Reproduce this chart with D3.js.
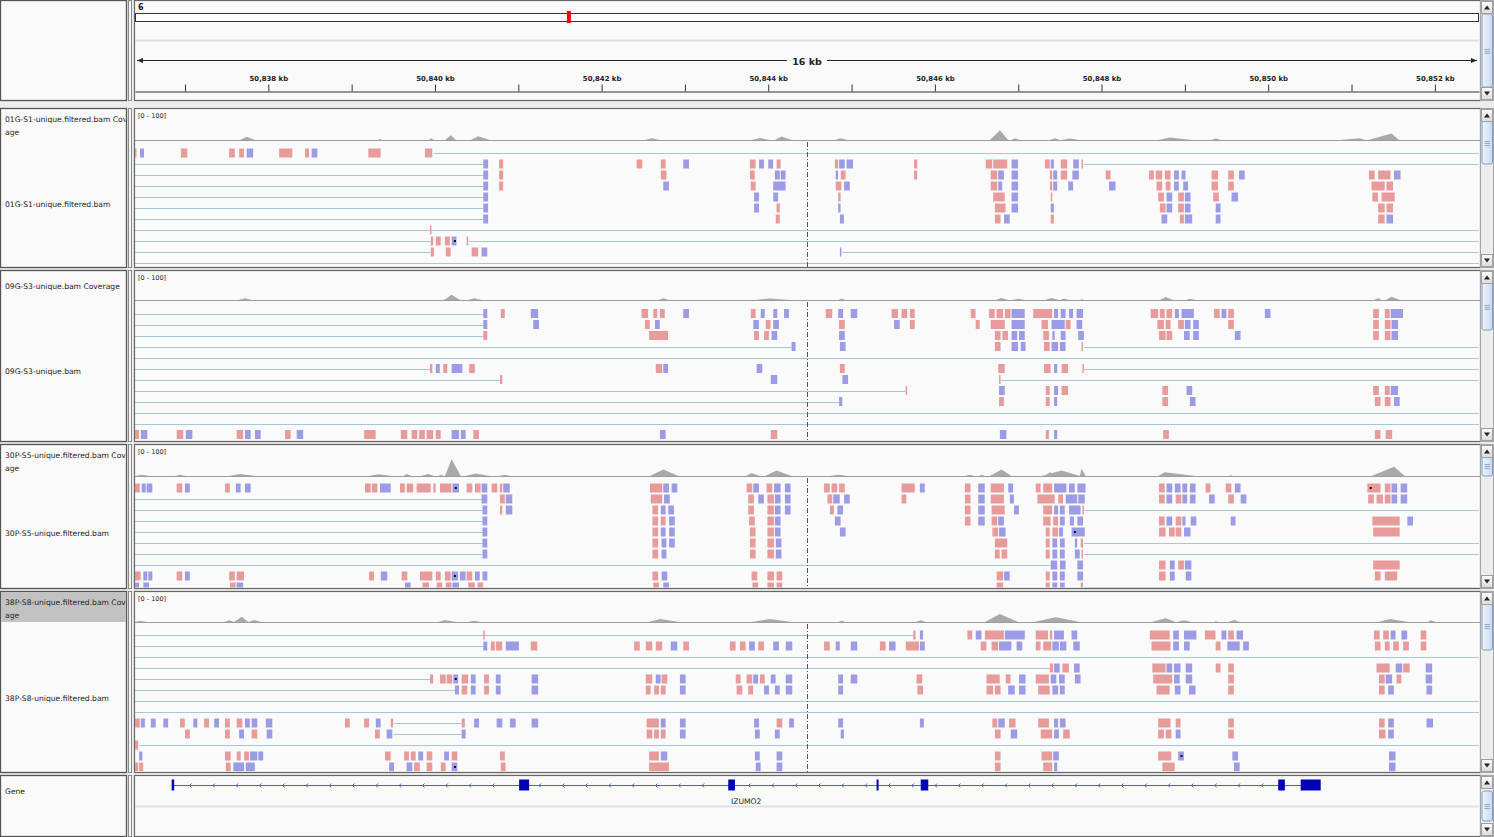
<!DOCTYPE html>
<html lang="en">
<head>
<meta charset="UTF-8">
<title>IGV - chr6 IZUMO2</title>
<script src="https://d3js.org/d3.v7.min.js"></script>
<style>
  body { margin: 0; background: #ececec; }
  svg { display: block; font-family: "DejaVu Sans", sans-serif; }
</style>
</head>
<body>
<div id="igv"></div>
<script>
// all genomic positions below are kb past 50,800 kb on chr6
const KB0 = 50800;
const chromName = "6";
const ideogramSpanKb = 158200;
const viewRange = [36.40, 52.53];
const rulerTicks = [37, 38, 39, 40, 41, 42, 43, 44, 45, 46, 47, 48, 49, 50, 51, 52];

const coverageNames = [["01G-S1-unique.filtered.bam Cover", "age"], ["09G-S3-unique.bam Coverage"],
  ["30P-S5-unique.filtered.bam Cover", "age"], ["38P-S8-unique.filtered.bam Cover", "age"]];
const bamNames = ["01G-S1-unique.filtered.bam", "09G-S3-unique.bam", "30P-S5-unique.filtered.bam", "38P-S8-unique.filtered.bam"];

// coverage bumps: [start, peak, end, depth]
const cov01G = [[37.66,37.74,37.84,11],[39.32,39.34,39.36,4],[39.93,39.95,39.99,6],[40.12,40.19,40.25,16],[40.43,40.52,40.66,13],[42.52,42.60,42.70,6],[43.80,43.90,44.02,7],[44.08,44.16,44.28,12],[44.81,44.86,44.96,6],[46.66,46.78,46.88,34],[46.92,46.96,47.02,6],[47.38,47.44,47.50,6],[47.52,47.62,47.74,5],[48.68,48.82,49.08,9],[49.32,49.37,49.43,5],[50.86,51.10,51.16,6],[51.20,51.48,51.57,22]];
const cov09G = [[37.64,37.72,37.80,6],[40.11,40.20,40.30,18],[40.40,40.47,40.56,6],[42.68,42.74,42.81,6],[43.84,44.02,44.26,5],[44.84,44.88,44.93,4],[46.73,46.80,46.88,7],[46.92,47.00,47.08,4],[47.32,47.40,47.49,7],[47.50,47.55,47.61,4],[47.74,47.76,47.79,3],[48.70,48.77,48.86,10],[49.01,49.06,49.13,4],[51.27,51.32,51.36,7],[51.41,51.48,51.58,11]];
const cov30P = [[36.40,36.48,36.58,4],[36.88,36.94,37.01,4],[37.52,37.66,37.85,7],[39.20,39.32,39.48,6],[39.62,39.66,39.72,7],[39.83,39.92,39.99,7],[40.04,40.07,40.11,4],[40.12,40.20,40.31,58],[40.36,40.49,40.66,9],[40.76,40.84,40.91,4],[42.58,42.74,42.92,22],[43.73,43.80,43.90,10],[43.96,44.10,44.28,19],[44.74,44.84,44.96,4],[46.36,46.42,46.48,4],[46.53,46.56,46.60,4],[46.66,46.80,46.92,22],[47.28,47.52,47.74,19],[47.32,47.38,47.48,13],[47.74,47.76,47.81,26],[48.68,48.76,49.13,13],[49.53,49.55,49.58,3],[51.24,51.51,51.64,32]];
const cov38P = [[36.40,36.46,36.54,4],[37.47,37.53,37.59,6],[37.59,37.68,37.76,18],[37.76,37.83,37.92,7],[40.04,40.12,40.25,7],[40.40,40.47,40.54,4],[42.56,42.70,42.94,10],[43.80,44.02,44.28,10],[44.84,44.88,44.93,4],[45.77,45.83,45.89,6],[46.60,46.78,47.00,28],[47.19,47.45,47.74,16],[48.60,48.77,48.89,13],[48.90,48.99,49.08,6],[49.35,49.37,49.40,3],[49.52,49.59,49.66,7],[51.32,51.46,51.68,10],[51.92,51.95,52.01,6]];

// alignment rows: [kind, start, end]; f = forward read, r = reverse read, n = spliced gap
const reads01G = [
 [["f",36.38,36.43],["r",36.46,36.52],["f",36.95,37.04],["f",37.53,37.61],["f",37.65,37.72],["r",37.74,37.83],["f",38.13,38.30],["f",38.44,38.50],["r",38.52,38.60],["f",39.20,39.36],["f",39.88,39.98],["n",39.98,52.6]],
 [["n",36.4,40.58],["r",40.58,40.65],["f",40.77,40.83],["f",42.42,42.50],["f",42.71,42.78],["r",42.98,43.06],["f",43.78,43.86],["r",43.89,43.96],["r",44.00,44.07],["f",44.10,44.16],["f",44.80,44.85],["r",44.85,44.93],["r",44.94,45.03],["f",45.75,45.80],["f",46.61,46.70],["f",46.70,46.88],["r",46.92,47.01],["f",47.32,47.39],["r",47.39,47.44],["f",47.51,47.60],["r",47.66,47.74],["f",47.76,47.79],["n",47.79,52.6]],
 [["n",36.4,40.58],["r",40.58,40.65],["f",40.77,40.83],["f",42.71,42.79],["f",43.78,43.85],["r",44.08,44.15],["r",44.15,44.22],["r",44.81,44.85],["f",44.87,44.94],["f",45.75,45.80],["f",46.67,46.76],["r",46.76,46.84],["r",46.92,47.01],["f",47.38,47.42],["r",47.42,47.48],["f",47.51,47.60],["r",47.65,47.74],["f",48.05,48.12],["f",48.57,48.64],["f",48.65,48.74],["f",48.76,48.84],["r",48.87,48.94],["r",48.96,49.02],["f",49.32,49.41],["f",49.52,49.60],["r",49.65,49.73],["f",51.21,51.29],["f",51.32,51.48],["r",51.51,51.60]],
 [["n",36.4,40.58],["r",40.58,40.65],["f",40.77,40.83],["r",42.74,42.82],["f",43.79,43.86],["r",44.06,44.22],["f",44.81,44.89],["r",44.91,44.99],["f",46.67,46.76],["r",46.76,46.82],["r",46.92,47.01],["f",47.38,47.42],["r",47.42,47.48],["r",47.60,47.67],["r",48.09,48.18],["f",48.66,48.74],["f",48.77,48.84],["r",48.87,48.94],["r",48.98,49.05],["f",49.32,49.41],["f",49.52,49.60],["f",51.24,51.41],["f",51.42,51.51]],
 [["n",36.4,40.58],["r",40.58,40.65],["r",43.83,43.90],["r",44.06,44.13],["f",44.84,44.88],["f",46.70,46.85],["r",46.92,47.01],["f",47.39,47.41],["f",48.68,48.76],["r",48.78,48.86],["f",48.92,49.00],["r",49.00,49.08],["f",49.34,49.42],["r",49.56,49.65],["f",51.25,51.33],["f",51.36,51.53]],
 [["n",36.4,40.58],["r",40.58,40.65],["r",43.83,43.90],["f",44.10,44.15],["r",44.84,44.88],["f",46.72,46.86],["r",46.92,47.01],["r",47.39,47.44],["f",48.70,48.78],["r",48.78,48.86],["f",48.92,49.00],["r",49.00,49.08],["r",49.37,49.44],["f",51.32,51.41],["f",51.42,51.51]],
 [["n",36.4,40.58],["r",40.58,40.65],["f",44.09,44.15],["r",44.86,44.92],["f",46.72,46.80],["r",46.83,46.91],["f",47.39,47.44],["r",48.72,48.80],["f",48.94,49.00],["r",49.00,49.10],["r",49.37,49.44],["f",51.32,51.41],["r",51.42,51.51]],
 [["n",36.4,52.6],["f",39.94,39.96]],
 [["n",36.4,39.95],["f",39.95,39.99],["f",40.01,40.08],["f",40.12,40.19],["r",40.20,40.27],["f",40.38,40.41],["n",40.41,52.6]],
 [["n",36.4,39.95],["f",39.95,40.00],["f",40.13,40.20],["f",40.44,40.53],["r",40.56,40.64],["r",44.86,44.89],["n",44.89,52.6]],
 [["n",36.4,52.6]]
];
const reads09G = [
 [["n",36.4,40.58],["r",40.58,40.64],["f",40.79,40.85],["r",41.15,41.25],["f",42.48,42.57],["f",42.62,42.68],["f",42.70,42.77],["r",42.98,43.06],["f",43.79,43.86],["r",43.91,43.97],["r",44.06,44.12],["r",44.19,44.26],["f",44.69,44.78],["r",44.84,44.91],["r",44.99,45.08],["f",45.48,45.57],["f",45.60,45.68],["f",45.70,45.77],["f",46.43,46.50],["f",46.65,46.73],["f",46.74,46.83],["f",46.84,46.92],["r",46.92,47.09],["f",47.18,47.42],["r",47.43,47.49],["r",47.51,47.58],["r",47.61,47.67],["r",47.70,47.79],["f",48.59,48.69],["f",48.70,48.77],["f",48.78,48.86],["r",48.88,48.94],["r",48.96,49.12],["f",49.35,49.43],["r",49.44,49.51],["f",49.52,49.60],["r",49.96,50.04],["f",51.26,51.34],["f",51.40,51.47],["r",51.47,51.63]],
 [["n",36.4,40.58],["r",40.58,40.64],["r",41.18,41.26],["f",42.52,42.59],["r",42.64,42.71],["r",43.82,43.90],["f",43.97,44.04],["r",44.06,44.14],["f",44.85,44.93],["r",45.51,45.59],["f",45.70,45.77],["f",46.49,46.55],["f",46.67,46.85],["r",46.92,47.09],["f",47.28,47.37],["r",47.40,47.57],["f",47.57,47.64],["r",47.70,47.78],["f",48.67,48.76],["f",48.77,48.84],["f",48.92,49.00],["r",49.00,49.08],["r",49.10,49.18],["f",49.52,49.60],["f",51.26,51.34],["f",51.40,51.48],["r",51.48,51.57]],
 [["n",36.4,40.58],["f",40.58,40.64],["f",42.57,42.81],["f",43.83,43.90],["f",43.95,44.02],["r",44.04,44.12],["r",44.85,44.93],["f",46.72,46.80],["f",46.81,46.89],["r",46.92,47.00],["r",47.01,47.09],["f",47.30,47.38],["r",47.41,47.45],["r",47.51,47.58],["r",47.72,47.80],["f",48.69,48.78],["f",48.78,48.86],["r",48.99,49.07],["r",49.10,49.18],["r",49.60,49.68],["f",51.26,51.34],["f",51.40,51.48],["r",51.48,51.57]],
 [["n",36.4,44.28],["r",44.28,44.34],["r",44.86,44.94],["f",46.72,46.80],["r",46.92,47.01],["r",47.03,47.10],["f",47.31,47.39],["r",47.40,47.49],["r",47.50,47.58],["f",47.76,47.79],["n",47.79,52.6]],
 [["n",36.4,52.6]],
 [["n",36.4,39.94],["f",39.94,39.98],["r",40.01,40.07],["f",40.10,40.16],["r",40.20,40.34],["f",40.41,40.49],["f",42.65,42.74],["r",42.74,42.81],["r",43.86,43.94],["f",44.86,44.93],["f",46.76,46.85],["f",47.31,47.40],["r",47.43,47.48],["f",47.52,47.61],["f",47.77,47.79],["n",47.79,52.6]],
 [["n",36.4,40.78],["f",40.78,40.82],["r",44.03,44.12],["r",44.89,44.97],["f",46.77,46.79],["n",46.79,52.6]],
 [["n",36.4,45.65],["f",45.65,45.68],["r",46.77,46.85],["f",47.33,47.39],["r",47.43,47.49],["f",47.52,47.61],["f",48.73,48.81],["r",49.02,49.10],["f",51.26,51.34],["f",51.40,51.47],["r",51.47,51.57]],
 [["n",36.4,44.85],["r",44.85,44.90],["f",46.77,46.84],["f",47.33,47.39],["r",47.43,47.48],["f",48.73,48.81],["r",49.06,49.14],["f",51.28,51.36],["f",51.40,51.48],["r",51.51,51.59]],
 [["n",36.4,52.6]],
 [["n",36.4,52.6]],
 [["f",36.40,36.46],["r",36.47,36.56],["f",36.90,36.99],["r",37.01,37.10],["f",37.62,37.71],["r",37.72,37.80],["r",37.84,37.92],["f",38.20,38.28],["r",38.34,38.43],["f",39.15,39.30],["f",39.59,39.68],["f",39.72,39.80],["f",39.81,39.89],["f",39.90,39.99],["f",40.01,40.08],["r",40.20,40.30],["r",40.31,40.38],["f",40.46,40.54],["r",42.70,42.78],["f",44.03,44.12],["r",46.78,46.87],["f",47.33,47.38],["r",47.43,47.48],["f",48.74,48.82],["f",51.28,51.36],["f",51.41,51.50]]
];
const reads30P = [
 [["f",36.40,36.47],["r",36.48,36.54],["r",36.54,36.62],["f",36.90,36.98],["r",37.00,37.07],["f",37.48,37.55],["r",37.61,37.68],["r",37.72,37.80],["f",39.16,39.24],["f",39.24,39.32],["r",39.34,39.48],["f",39.58,39.65],["f",39.66,39.75],["f",39.78,39.96],["f",39.98,40.02],["f",40.06,40.21],["r",40.21,40.30],["f",40.38,40.46],["f",40.48,40.56],["r",40.56,40.64],["f",40.68,40.76],["f",40.78,40.82],["r",40.82,40.91],["f",42.58,42.74],["r",42.74,42.82],["r",42.84,42.92],["f",43.74,43.82],["r",43.82,43.90],["f",43.98,44.06],["r",44.07,44.16],["r",44.20,44.28],["f",44.67,44.75],["f",44.76,44.84],["f",44.85,44.93],["f",45.60,45.77],["r",45.82,45.89],["f",46.36,46.44],["r",46.52,46.61],["f",46.67,46.84],["r",46.88,46.95],["f",47.21,47.28],["f",47.30,47.42],["r",47.43,47.59],["r",47.61,47.69],["r",47.71,47.82],["f",48.69,48.77],["r",48.78,48.86],["r",48.88,48.96],["r",48.97,49.04],["r",49.06,49.14],["f",49.25,49.32],["f",49.49,49.57],["r",49.60,49.68],["f",51.19,51.36],["f",51.40,51.48],["r",51.48,51.56],["r",51.59,51.68]],
 [["n",36.4,40.56],["r",40.56,40.64],["f",40.78,40.85],["r",40.85,40.94],["f",42.59,42.74],["r",42.75,42.83],["f",43.76,43.84],["r",43.88,43.96],["f",43.99,44.08],["r",44.08,44.16],["r",44.20,44.28],["f",44.71,44.78],["r",44.78,44.87],["r",44.91,44.99],["f",45.60,45.67],["f",46.36,46.44],["r",46.52,46.61],["f",46.67,46.84],["r",46.90,46.96],["f",47.23,47.45],["f",47.48,47.55],["r",47.57,47.72],["r",47.72,47.81],["f",48.69,48.77],["r",48.78,48.86],["f",48.89,48.97],["r",48.97,49.04],["r",49.06,49.14],["r",49.29,49.37],["f",49.52,49.60],["r",49.67,49.75],["f",51.20,51.28],["f",51.30,51.39],["f",51.40,51.48],["r",51.48,51.56],["r",51.59,51.68]],
 [["n",36.4,40.57],["r",40.57,40.64],["f",40.78,40.82],["r",40.85,40.94],["f",42.61,42.69],["r",42.71,42.78],["r",42.80,42.88],["f",43.76,43.84],["f",43.99,44.08],["r",44.08,44.16],["r",44.20,44.28],["f",44.74,44.80],["r",44.83,44.91],["f",46.36,46.44],["r",46.52,46.61],["f",46.68,46.85],["r",46.95,47.02],["f",47.30,47.42],["r",47.43,47.49],["r",47.50,47.57],["r",47.61,47.76],["f",47.77,47.79],["n",47.79,52.6]],
 [["n",36.4,40.57],["r",40.57,40.64],["f",42.61,42.69],["f",42.71,42.78],["r",42.81,42.89],["f",43.77,43.85],["f",43.99,44.08],["r",44.08,44.16],["r",44.80,44.88],["f",46.36,46.44],["r",46.52,46.61],["f",46.68,46.76],["r",46.76,46.84],["f",47.30,47.40],["f",47.42,47.49],["r",47.50,47.57],["r",47.62,47.68],["r",47.71,47.79],["f",48.69,48.77],["r",48.78,48.86],["f",48.89,48.97],["r",48.97,49.02],["r",49.07,49.15],["r",49.55,49.62],["f",51.25,51.59],["r",51.67,51.75]],
 [["n",36.4,40.57],["r",40.57,40.64],["f",42.61,42.69],["r",42.71,42.78],["r",42.81,42.89],["f",43.78,43.86],["f",43.99,44.08],["r",44.08,44.16],["r",44.86,44.94],["f",46.69,46.77],["r",46.77,46.86],["f",47.33,47.39],["f",47.41,47.49],["r",47.49,47.55],["r",47.64,47.81],["f",48.69,48.78],["f",48.81,48.89],["f",48.89,48.97],["r",48.99,49.08],["f",51.26,51.59]],
 [["n",36.4,40.57],["r",40.57,40.64],["f",42.61,42.69],["r",42.72,42.79],["r",42.81,42.89],["f",43.78,43.86],["f",43.99,44.08],["r",44.09,44.17],["f",46.72,46.88],["f",47.33,47.39],["r",47.41,47.48],["r",47.50,47.57],["r",47.68,47.72],["f",47.75,47.79],["n",47.79,52.6]],
 [["n",36.4,40.57],["r",40.57,40.64],["f",42.61,42.69],["r",42.72,42.79],["f",43.78,43.86],["f",43.99,44.08],["r",44.09,44.17],["f",46.72,46.79],["f",46.80,46.88],["f",47.33,47.39],["r",47.41,47.48],["r",47.50,47.57],["r",47.68,47.75],["f",47.76,47.79],["n",47.79,52.6]],
 [["n",36.4,47.39],["r",47.39,47.48],["r",47.50,47.58],["r",47.71,47.79],["f",48.69,48.78],["r",48.82,48.89],["f",48.92,49.00],["r",49.00,49.09],["f",51.26,51.59]],
 [["f",36.40,36.48],["r",36.50,36.56],["r",36.56,36.62],["f",36.90,36.98],["r",37.00,37.07],["f",37.53,37.61],["f",37.62,37.72],["f",39.21,39.28],["r",39.35,39.44],["f",39.60,39.68],["f",39.82,39.98],["f",40.01,40.08],["f",40.12,40.20],["r",40.20,40.29],["r",40.30,40.38],["f",40.38,40.46],["r",40.48,40.55],["r",40.57,40.64],["f",42.61,42.69],["r",42.72,42.80],["f",43.80,43.88],["f",43.99,44.08],["f",44.10,44.18],["f",46.74,46.83],["r",46.83,46.91],["f",47.33,47.39],["r",47.41,47.48],["r",47.50,47.57],["r",47.71,47.79],["f",48.69,48.78],["r",48.82,48.89],["r",49.01,49.09],["f",51.28,51.36],["f",51.40,51.56]],
 [["r",36.40,36.46],["r",36.50,36.58],["f",37.54,37.62],["r",37.62,37.71],["r",39.64,39.72],["f",39.85,39.94],["f",40.02,40.10],["f",40.13,40.21],["r",40.21,40.30],["f",40.40,40.49],["f",40.51,40.59],["f",42.62,42.70],["r",42.74,42.82],["f",43.81,43.89],["f",43.99,44.08],["f",44.10,44.18],["f",46.74,46.83],["f",47.33,47.39],["r",47.41,47.48],["r",47.50,47.57],["f",47.75,47.79],["n",47.79,52.6]]
];
const reads38P = [
 [["n",36.4,45.74],["f",40.58,40.60],["f",45.74,45.78],["r",45.82,45.87],["f",46.39,46.46],["r",46.49,46.57],["f",46.60,46.84],["r",46.84,47.09],["f",47.21,47.37],["f",47.38,47.42],["r",47.43,47.56],["r",47.64,47.72],["f",48.58,48.83],["r",48.86,48.94],["r",48.99,49.15],["f",49.24,49.38],["r",49.44,49.51],["f",49.52,49.60],["r",49.62,49.71],["f",51.27,51.35],["f",51.38,51.46],["r",51.47,51.54],["r",51.60,51.68],["f",51.83,51.91]],
 [["n",36.4,40.58],["r",40.58,40.64],["f",40.67,40.73],["f",40.73,40.82],["r",40.85,41.02],["f",41.15,41.24],["f",42.39,42.47],["f",42.53,42.62],["f",42.65,42.74],["r",42.83,42.92],["f",42.98,43.06],["f",43.54,43.62],["f",43.66,43.74],["r",43.77,43.85],["f",43.88,43.96],["r",44.06,44.14],["r",44.21,44.30],["f",44.67,44.75],["r",44.81,44.87],["r",44.99,45.08],["f",45.34,45.42],["r",45.45,45.54],["f",45.65,45.82],["r",45.82,45.89],["f",46.55,46.63],["f",46.68,46.77],["r",46.77,46.93],["r",46.98,47.06],["f",47.21,47.28],["f",47.30,47.41],["r",47.41,47.50],["r",47.50,47.59],["r",47.66,47.75],["f",48.60,48.84],["r",48.86,48.94],["r",48.99,49.07],["f",49.37,49.44],["r",49.51,49.67],["r",49.70,49.78],["f",51.28,51.36],["f",51.40,51.47],["f",51.50,51.58],["f",51.62,51.70],["f",51.83,51.91]],
 [["n",36.4,52.6]],
 [["n",36.4,47.38],["f",47.38,47.43],["r",47.43,47.51],["f",47.53,47.62],["r",47.67,47.75],["f",48.61,48.78],["r",48.78,48.86],["r",48.87,48.96],["r",49.01,49.10],["f",49.37,49.44],["f",49.52,49.60],["f",51.30,51.47],["r",51.53,51.62],["f",51.62,51.71],["r",51.89,51.98]],
 [["n",36.4,39.94],["f",39.94,39.99],["f",40.06,40.14],["f",40.14,40.22],["r",40.22,40.29],["f",40.32,40.41],["r",40.43,40.50],["f",40.59,40.66],["r",40.73,40.80],["r",41.16,41.25],["f",42.53,42.62],["r",42.65,42.72],["f",42.72,42.80],["r",42.94,43.02],["f",43.61,43.68],["f",43.74,43.82],["r",43.82,43.89],["f",43.90,43.97],["r",44.03,44.10],["r",44.21,44.30],["r",44.84,44.91],["r",44.99,45.08],["f",45.78,45.86],["f",46.62,46.79],["f",46.85,46.92],["r",47.01,47.10],["f",47.21,47.38],["r",47.39,47.47],["r",47.49,47.57],["r",47.68,47.76],["f",48.62,48.86],["r",48.87,48.95],["r",49.01,49.10],["f",49.52,49.60],["f",51.33,51.41],["r",51.41,51.50],["f",51.54,51.61],["r",51.89,51.98]],
 [["n",36.4,40.24],["r",40.24,40.30],["f",40.32,40.40],["r",40.43,40.50],["f",40.59,40.66],["r",40.73,40.80],["r",41.16,41.25],["f",42.53,42.60],["f",42.63,42.70],["f",42.71,42.78],["r",42.94,43.02],["f",43.62,43.70],["f",43.76,43.83],["r",43.95,44.02],["r",44.08,44.15],["r",44.21,44.30],["r",44.84,44.91],["f",45.79,45.87],["f",46.62,46.71],["f",46.72,46.80],["r",46.88,46.97],["r",47.01,47.10],["f",47.24,47.39],["r",47.41,47.49],["r",47.50,47.57],["f",48.66,48.83],["r",48.88,48.96],["r",49.05,49.14],["f",49.52,49.60],["f",51.33,51.41],["r",51.44,51.52],["r",51.90,51.98]],
 [["n",36.4,52.6]],
 [["n",36.4,52.6]],
 [["f",36.40,36.47],["r",36.47,36.53],["r",36.59,36.66],["r",36.74,36.81],["f",36.94,37.01],["r",37.10,37.16],["f",37.23,37.30],["r",37.35,37.42],["f",37.48,37.55],["f",37.62,37.70],["r",37.72,37.79],["r",37.80,37.88],["r",37.97,38.06],["f",38.92,38.99],["f",39.15,39.22],["r",39.29,39.36],["f",39.47,39.51],["n",39.51,40.32],["f",40.32,40.37],["r",40.47,40.54],["r",40.74,40.82],["r",40.90,40.98],["r",41.16,41.25],["f",42.54,42.70],["r",42.71,42.78],["r",42.94,43.02],["r",43.83,43.90],["f",44.10,44.18],["r",44.25,44.32],["r",44.84,44.91],["r",45.82,45.88],["f",46.69,46.76],["r",46.76,46.85],["f",46.89,46.98],["f",47.24,47.38],["r",47.43,47.49],["r",47.50,47.58],["f",48.68,48.84],["f",48.89,48.96],["f",49.52,49.60],["f",51.33,51.41],["r",51.44,51.52],["r",51.90,51.99]],
 [["f",37.00,37.07],["f",37.48,37.55],["r",37.65,37.72],["f",37.80,37.88],["r",37.98,38.06],["f",39.28,39.35],["r",39.42,39.50],["n",39.50,40.32],["r",40.32,40.38],["f",42.54,42.62],["f",42.63,42.70],["f",42.71,42.78],["r",42.94,43.02],["r",43.84,43.91],["r",44.08,44.15],["r",44.87,44.92],["f",46.72,46.80],["r",46.91,47.00],["f",47.27,47.42],["r",47.43,47.50],["f",47.54,47.63],["f",48.68,48.76],["f",48.77,48.85],["r",48.89,48.96],["f",49.52,49.60],["f",51.33,51.42],["r",51.44,51.52]],
 [["f",36.40,36.45],["n",36.45,52.6]],
 [["r",36.45,36.50],["f",37.48,37.56],["f",37.62,37.68],["f",37.71,37.78],["r",37.78,37.88],["r",37.88,37.95],["f",39.40,39.48],["f",39.63,39.70],["f",39.71,39.78],["r",39.80,39.87],["f",39.90,39.98],["r",40.11,40.18],["f",40.20,40.28],["f",40.78,40.85],["f",42.57,42.70],["r",42.71,42.80],["r",43.84,43.91],["r",44.10,44.18],["f",46.72,46.80],["f",47.28,47.42],["r",47.42,47.50],["f",48.68,48.85],["r",48.92,49.00],["r",49.57,49.65],["r",51.45,51.54]],
 [["f",36.40,36.45],["f",36.45,36.51],["f",37.49,37.56],["r",37.58,37.72],["r",37.73,37.85],["r",39.45,39.52],["r",39.66,39.74],["f",39.75,39.83],["f",39.90,39.98],["f",40.07,40.14],["r",40.20,40.28],["f",40.79,40.86],["f",42.57,42.82],["r",43.85,43.92],["r",44.10,44.18],["f",46.72,46.80],["f",47.30,47.42],["r",47.43,47.48],["f",48.73,48.89],["r",49.59,49.67],["r",51.45,51.54]]
];

// mismatched bases: [row, position]
const mism01G = [[8, 40.24]];
const mism09G = [];
const mism30P = [[0, 40.25], [0, 51.23], [4, 47.68], [8, 40.24]];
const mism38P = [[4, 40.25], [12, 40.24], [11, 48.96]];

// IZUMO2 (minus strand)
const geneName = "IZUMO2";
const geneSpan = [36.85, 50.50];
const geneExons = [[36.84,36.87],[41.01,41.13],[43.52,43.60],[45.30,45.32],[45.83,45.92],[50.12,50.20],[50.39,50.63]];

// ---------- layout ----------
const W = 1494, H = 837;
const dataLeft = 135, dataRight = 1479;
const panels = [
  { top: 108, bottom: 268, covBase: 140, row0: 153, thumb: [121, 164] },
  { top: 270, bottom: 442, covBase: 300, row0: 313.5, thumb: [283, 330] },
  { top: 444, bottom: 589, covBase: 476, row0: 488, thumb: [456, 476] },
  { top: 591, bottom: 773, covBase: 622, row0: 635, thumb: [602, 650] }
];
const tracks = [
  { cov: cov01G, reads: reads01G, mism: mism01G },
  { cov: cov09G, reads: reads09G, mism: mism09G },
  { cov: cov30P, reads: reads30P, mism: mism30P },
  { cov: cov38P, reads: reads38P, mism: mism38P }
];
const rowPitch = 11, readH = 9, covH = 29;
const colors = { f: "#e89b9b", r: "#9b9be6", n: "#a9c6d8", border: "#666", nameBorder: "#555" };

const x = d3.scaleLinear().domain(viewRange).range([dataLeft, dataRight]);
const ideo = d3.scaleLinear().domain([0, ideogramSpanKb]).range([dataLeft, dataRight]);

const svg = d3.select("#igv").append("svg").attr("width", W).attr("height", H);
const defs = svg.append("defs");

const tg = defs.append("linearGradient").attr("id", "thumbGrad").attr("x1", 0).attr("x2", 1);
tg.append("stop").attr("offset", "0").attr("stop-color", "#eef4fc");
tg.append("stop").attr("offset", "1").attr("stop-color", "#c9daf2");
const bg = defs.append("linearGradient").attr("id", "btnGrad").attr("x1", 0).attr("y1", 0).attr("x2", 0).attr("y2", 1);
bg.append("stop").attr("offset", "0").attr("stop-color", "#fbfbfb");
bg.append("stop").attr("offset", "1").attr("stop-color", "#dcdcdc");

svg.append("rect").attr("width", W).attr("height", H).attr("fill", "#ececec");

function box(x0, y0, x1, y1, fill, stroke) {
  return svg.append("rect").attr("x", x0 + 0.5).attr("y", y0 + 0.5)
    .attr("width", x1 - x0 - 1).attr("height", y1 - y0 - 1)
    .attr("fill", fill).attr("stroke", stroke).attr("stroke-width", 1);
}

function frame(top, bottom) {
  box(0, top, 127, bottom, "#fafafa", colors.nameBorder).attr("stroke-width", 1.3);
  box(128, top, 132, bottom, "#f6f6f6", "#8a8a8a");
  box(134, top, 1481, bottom, "#fafafa", colors.border).attr("stroke-width", 1.2);
}

function scrollbar(top, bottom, thumb) {
  const g = svg.append("g");
  g.append("rect").attr("x", 1480.5).attr("y", top + 0.5).attr("width", 13).attr("height", bottom - top - 1)
    .attr("fill", "#ededed").attr("stroke", "#a5a5a5");
  g.append("rect").attr("x", 1482).attr("y", thumb[0]).attr("width", 10.5).attr("height", thumb[1] - thumb[0])
    .attr("rx", 2).attr("fill", "url(#thumbGrad)").attr("stroke", "#7f9ccb");
  const mid = Math.round((thumb[0] + thumb[1]) / 2);
  [-2, 0, 2].forEach(d => {
    g.append("line").attr("x1", 1484.5).attr("x2", 1490).attr("y1", mid + d + 0.5).attr("y2", mid + d + 0.5)
      .attr("stroke", "#8ea9d4");
  });
  [[top + 1, -1], [bottom - 14, 1]].forEach(([y0, dir]) => {
    g.append("rect").attr("x", 1481.5).attr("y", y0 + 0.5).attr("width", 11).attr("height", 12)
      .attr("fill", "url(#btnGrad)").attr("stroke", "#a0a0a0");
    const cy = y0 + 6.5;
    g.append("path").attr("d", dir < 0
        ? `M${1484},${cy + 2}L${1487},${cy - 2}L${1490},${cy + 2}Z`
        : `M${1484},${cy - 2}L${1487},${cy + 2}L${1490},${cy - 2}Z`)
      .attr("fill", "#222");
  });
}

function nameText(txt, y, clipId) {
  svg.append("text").attr("x", 5).attr("y", y).attr("font-size", 7.6).attr("fill", "#222")
    .attr("clip-path", `url(#${clipId})`).text(txt);
}

// ---------- header: ideogram + ruler ----------
frame(0, 101);
svg.append("text").attr("x", 138).attr("y", 10).attr("font-size", 8).attr("font-weight", "bold")
  .attr("fill", "#222").text(chromName);
svg.append("rect").attr("x", ideo(0) + 0.5).attr("y", 13.5).attr("width", ideo(ideogramSpanKb) - ideo(0) - 1)
  .attr("height", 8).attr("fill", "#fff").attr("stroke", "#333");
const m0 = ideo(KB0 + viewRange[0]);
svg.append("rect").attr("x", m0).attr("y", 11).attr("width", Math.max(4, ideo(KB0 + viewRange[1]) - m0))
  .attr("height", 12).attr("fill", "#f00");
svg.append("line").attr("x1", dataLeft).attr("x2", dataRight).attr("y1", 40.5).attr("y2", 40.5)
  .attr("stroke", "#dedede").attr("stroke-width", 2);

const midX = x((viewRange[0] + viewRange[1]) / 2);
const spanLabel = Math.round(viewRange[1] - viewRange[0]) + " kb";
svg.append("text").attr("x", midX).attr("y", 64.5).attr("text-anchor", "middle").attr("font-size", 9.5)
  .attr("font-weight", "bold").attr("fill", "#222").text(spanLabel);
[[x(viewRange[0]) + 2, midX - 20], [midX + 20, x(viewRange[1]) - 2]].forEach(([a, b]) => {
  svg.append("line").attr("x1", a).attr("x2", b).attr("y1", 60.5).attr("y2", 60.5).attr("stroke", "#222");
});
svg.append("path").attr("d", `M${x(viewRange[0]) + 2},60.5l6,-2.5v5Z`).attr("fill", "#222");
svg.append("path").attr("d", `M${x(viewRange[1]) - 2},60.5l-6,-2.5v5Z`).attr("fill", "#222");

const ruler = svg.append("g").attr("transform", "translate(0,91.5)")
  .call(d3.axisTop(x).tickValues(rulerTicks).tickSize(7).tickSizeOuter(0).tickPadding(4)
    .tickFormat(v => v % 2 === 0 ? d3.format(",")(KB0 + v) + " kb" : ""));
ruler.select(".domain").attr("stroke", "#333");
ruler.selectAll(".tick line").attr("stroke", "#333");
ruler.selectAll(".tick text").attr("font-size", 6.9).attr("font-weight", "bold").attr("fill", "#222")
  .attr("font-family", "DejaVu Sans, sans-serif");
scrollbar(0, 101, [14, 87]);

// ---------- alignment panels ----------
panels.forEach((p, i) => {
  const t = tracks[i];
  frame(p.top, p.bottom);

  const nameClip = "nclip" + i;
  defs.append("clipPath").attr("id", nameClip).append("rect")
    .attr("x", 1).attr("y", p.top).attr("width", 124.5).attr("height", p.bottom - p.top);
  if (i === 3) {
    svg.append("rect").attr("x", 1).attr("y", p.top + 1).attr("width", 125).attr("height", p.covBase - p.top - 1)
      .attr("fill", "#c2c2c2");
  }
  const cn = coverageNames[i];
  if (cn.length === 1) nameText(cn[0], p.top + 19, nameClip);
  else cn.forEach((s, k) => nameText(s, p.top + 14 + k * 12.5, nameClip));
  nameText(bamNames[i], (p.covBase + p.bottom) / 2 + 3, nameClip);

  // coverage
  svg.append("text").attr("x", 138).attr("y", p.top + 9.5).attr("font-size", 6.5).attr("fill", "#222").text("[0 - 100]");
  const cy = d3.scaleLinear().domain([0, 100]).range([p.covBase, p.covBase - covH]);
  svg.append("g").selectAll("path").data(t.cov).join("path")
    .attr("d", d => `M${x(d[0])},${cy(0)}L${x(d[1])},${cy(d[3])}L${x(d[2])},${cy(0)}Z`)
    .attr("fill", "#a9a9a9");
  svg.append("line").attr("x1", dataLeft).attr("x2", dataRight + 1).attr("y1", p.covBase + 0.5).attr("y2", p.covBase + 0.5)
    .attr("stroke", "#9c9c9c").attr("stroke-width", 1.2);

  // reads
  const clipId = "dclip" + i;
  defs.append("clipPath").attr("id", clipId).append("rect")
    .attr("x", dataLeft).attr("y", p.covBase + 1.5).attr("width", dataRight - dataLeft).attr("height", p.bottom - p.covBase - 3);
  const g = svg.append("g").attr("clip-path", `url(#${clipId})`);
  const rowY = r => p.row0 + r * rowPitch;
  const segs = t.reads.flatMap((row, r) => row.map(s => ({ r, k: s[0], s: s[1], e: s[2] })));
  g.selectAll("line.gap").data(segs.filter(d => d.k === "n")).join("line")
    .attr("x1", d => x(d.s)).attr("x2", d => x(d.e))
    .attr("y1", d => Math.round(rowY(d.r)) + 0.5).attr("y2", d => Math.round(rowY(d.r)) + 0.5)
    .attr("stroke", colors.n).attr("stroke-width", 1.2);
  g.selectAll("rect.read").data(segs.filter(d => d.k !== "n")).join("rect")
    .attr("x", d => x(d.s)).attr("width", d => Math.max(1.5, x(d.e) - x(d.s) - 1))
    .attr("y", d => rowY(d.r) - readH / 2).attr("height", readH)
    .attr("fill", d => colors[d.k]);
  g.selectAll("rect.mm").data(t.mism).join("rect")
    .attr("x", d => x(d[1]) - 1).attr("y", d => rowY(d[0]) - 1).attr("width", 2).attr("height", 2)
    .attr("fill", "#111");

  // center line
  svg.append("line").attr("x1", midX + 0.5).attr("x2", midX + 0.5).attr("y1", p.covBase + 2).attr("y2", p.bottom - 1)
    .attr("stroke", "#555").attr("stroke-dasharray", "5,2,1,2");

  scrollbar(p.top, p.bottom, p.thumb);
});

// ---------- gene track ----------
const gTop = 775, gBottom = 837;
frame(gTop, gBottom);
svg.append("text").attr("x", 5).attr("y", 794).attr("font-size", 7.6).attr("fill", "#222").text("Gene");
svg.append("line").attr("x1", dataLeft).attr("x2", dataRight).attr("y1", 806.5).attr("y2", 806.5)
  .attr("stroke", "#e0e0e6").attr("stroke-width", 2);
const geneY = 785.5;
svg.append("line").attr("x1", x(geneSpan[0])).attr("x2", x(geneSpan[1])).attr("y1", geneY).attr("y2", geneY)
  .attr("stroke", "#5a5ad8").attr("stroke-width", 1.2);
const chevrons = [];
for (let px = x(geneSpan[0]) + 18; px < x(geneSpan[1]) - 4; px += 23.3) {
  const inExon = geneExons.some(e => px > x(e[0]) - 3 && px < x(e[1]) + 3);
  if (!inExon) chevrons.push(px);
}
svg.append("g").selectAll("path").data(chevrons).join("path")
  .attr("d", px => `M${px + 1},${geneY - 2}L${px - 1},${geneY}L${px + 1},${geneY + 2}`)
  .attr("fill", "none").attr("stroke", "#4848d0").attr("stroke-width", 0.9);
svg.append("g").selectAll("rect").data(geneExons).join("rect")
  .attr("x", d => x(d[0])).attr("width", d => Math.max(2, x(d[1]) - x(d[0])))
  .attr("y", 779.5).attr("height", 11).attr("fill", "#0000b4");
svg.append("text").attr("x", x((geneExons[0][0] + geneExons[geneExons.length - 1][1]) / 2)).attr("y", 804)
  .attr("text-anchor", "middle").attr("font-size", 7.6).attr("fill", "#222").text(geneName);
scrollbar(gTop, gBottom, [791, 821]);
</script>
</body>
</html>
